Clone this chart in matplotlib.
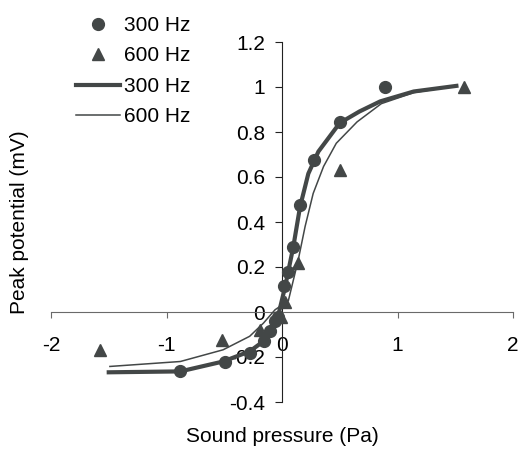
import matplotlib.pyplot as plt

# measured points
x300 = [-0.88, -0.49, -0.28, -0.16, -0.105, -0.06, -0.035, 0.02, 0.05, 0.093, 0.16, 0.28, 0.50, 0.89]
y300 = [-0.264, -0.22, -0.18, -0.13, -0.086, -0.04, -0.02, 0.114, 0.176, 0.289, 0.474, 0.677, 0.843, 1.0]
x600 = [-1.58, -0.52, -0.19, -0.01, 0.026, 0.14, 0.50, 1.576]
y600 = [-0.168, -0.123, -0.079, -0.02, 0.045, 0.218, 0.63, 1.0]

# fitted curves
fx300 = [-1.5, -0.88, -0.51, -0.28, -0.16, -0.09, -0.035, 0.026, 0.098, 0.156, 0.228, 0.315, 0.5, 0.67, 0.85, 1.14, 1.51]
fy300 = [-0.268, -0.264, -0.22, -0.175, -0.13, -0.079, -0.02, 0.11, 0.29, 0.467, 0.615, 0.713, 0.84, 0.891, 0.936, 0.98, 1.005]
fx600 = [-1.49, -0.88, -0.51, -0.28, -0.16, -0.06, 0.055, 0.14, 0.2, 0.27, 0.36, 0.47, 0.65, 0.86, 1.14, 1.51]
fy600 = [-0.242, -0.22, -0.168, -0.108, -0.049, 0.01, 0.05, 0.23, 0.38, 0.527, 0.647, 0.75, 0.845, 0.926, 0.975, 1.005]

col = '#434747'


def main():
    plt.rcParams['font.family'] = ['Liberation Sans', 'DejaVu Sans']
    fig = plt.figure(figsize=(5.2, 4.49), dpi=100)
    ax = fig.add_axes([51 / 520, 1 - 402 / 449, 462 / 520, 360 / 449])

    h1, = ax.plot(x300, y300, 'o', color=col, markersize=8.5, label='300 Hz', zorder=4)
    h2, = ax.plot(x600, y600, '^', color=col, markersize=8.5, label='600 Hz', zorder=4)
    h3, = ax.plot(fx300, fy300, '-', color=col, linewidth=3, label='300 Hz', zorder=3)
    h4, = ax.plot(fx600, fy600, '-', color=col, linewidth=1.1, label='600 Hz', zorder=3)

    ax.set_xlim(-2, 2)
    ax.set_ylim(-0.4, 1.2)
    ax.spines['left'].set_position(('data', 0))
    ax.spines['bottom'].set_position(('data', 0))
    ax.spines['top'].set_visible(False)
    ax.spines['right'].set_visible(False)
    ax.spines['bottom'].set_color('#6a6a6a')
    ax.spines['left'].set_color('#222222')
    ax.patch.set_visible(False)

    ax.set_xticks([-2, -1, 0, 1, 2])
    ax.set_xticklabels(['-2', '-1', '0', '1', '2'])
    ax.set_yticks([-0.4, -0.2, 0, 0.2, 0.4, 0.6, 0.8, 1, 1.2])
    ax.set_yticklabels(['-0.4', '-0.2', '0', '0.2', '0.4', '0.6', '0.8', '1', '1.2'])
    ax.tick_params(axis='x', direction='out', length=4, color='#6a6a6a', pad=13, labelsize=15)
    ax.tick_params(axis='y', direction='out', length=5, color='#222222', pad=7, labelsize=15)

    fig.text(282 / 520, 1 - 437 / 449, 'Sound pressure (Pa)', ha='center', va='center', fontsize=15)
    fig.text(20 / 520, 1 - 222 / 449, 'Peak potential (mV)', ha='center', va='center',
             rotation=90, fontsize=15)

    fig.legend(handles=[h1, h2, h3, h4], loc='upper left', bbox_to_anchor=(76 / 520, 1 - 16 / 449),
               frameon=False, fontsize=15, handlelength=2.1, handletextpad=0.2,
               labelspacing=0.55, borderaxespad=0, borderpad=0)

    plt.savefig('out.png', dpi=100)


if __name__ == '__main__':
    main()
